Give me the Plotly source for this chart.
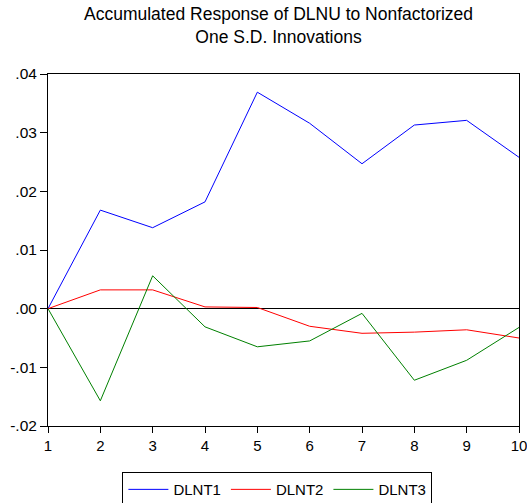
import plotly.graph_objects as go

periods = [1, 2, 3, 4, 5, 6, 7, 8, 9, 10]
dlnt1 = [0.0, 0.0168, 0.0138, 0.0182, 0.0369, 0.0316, 0.0247, 0.0313, 0.0321, 0.0258]
dlnt2 = [0.0, 0.0032, 0.0032, 0.0003, 0.0002, -0.0030, -0.0042, -0.0040, -0.0036, -0.0050]
dlnt3 = [0.0, -0.0157, 0.0056, -0.0031, -0.0065, -0.0055, -0.0008, -0.0122, -0.0088, -0.0032]
ytick_vals = [-0.02, -0.01, 0.0, 0.01, 0.02, 0.03, 0.04]
ytick_text = ["-.02", "-.01", ".00", ".01", ".02", ".03", ".04"]

fig = go.Figure()
fig.add_trace(go.Scatter(x=periods, y=dlnt1, mode="lines", name="DLNT1",
                         line=dict(color="#0000ff", width=1)))
fig.add_trace(go.Scatter(x=periods, y=dlnt2, mode="lines", name="DLNT2",
                         line=dict(color="#ff0000", width=1)))
fig.add_trace(go.Scatter(x=periods, y=dlnt3, mode="lines", name="DLNT3",
                         line=dict(color="#008000", width=1)))

fig.update_layout(
    width=527, height=503,
    margin=dict(l=48, r=8, t=74, b=77, autoexpand=False),
    paper_bgcolor="white", plot_bgcolor="white",
    font=dict(family="Liberation Sans, Arial, sans-serif", size=15, color="black"),
    annotations=[dict(text="Accumulated Response of DLNU to Nonfactorized<br>One S.D. Innovations",
                      xref="paper", yref="paper", x=0.49, xanchor="center",
                      y=1.072, yanchor="bottom", showarrow=False,
                      font=dict(size=17.5, color="black"))],
    showlegend=True,
    legend=dict(orientation="h", x=0.487, xanchor="center", y=-0.131, yanchor="top",
                bordercolor="black", borderwidth=1, font=dict(size=15),
                itemwidth=40, tracegroupgap=0),
    xaxis=dict(range=[1, 10], tickvals=periods, showgrid=False, zeroline=False,
               showline=True, linecolor="black", linewidth=1, mirror=True,
               ticks="outside", ticklen=6, tickcolor="black",
               ticklabeloverflow="allow", automargin=False,
               tickfont=dict(size=15)),
    yaxis=dict(range=[-0.02, 0.04], tickvals=ytick_vals, ticktext=ytick_text,
               showgrid=False, zeroline=True, zerolinecolor="black", zerolinewidth=1,
               showline=True, linecolor="black", linewidth=1, mirror=True,
               ticks="outside", ticklen=7, tickcolor="black", automargin=False,
               tickfont=dict(size=15.5)),
)

fig.write_html("out.html", config={"displayModeBar": False},
               post_script="document.body.style.margin='0px';")
